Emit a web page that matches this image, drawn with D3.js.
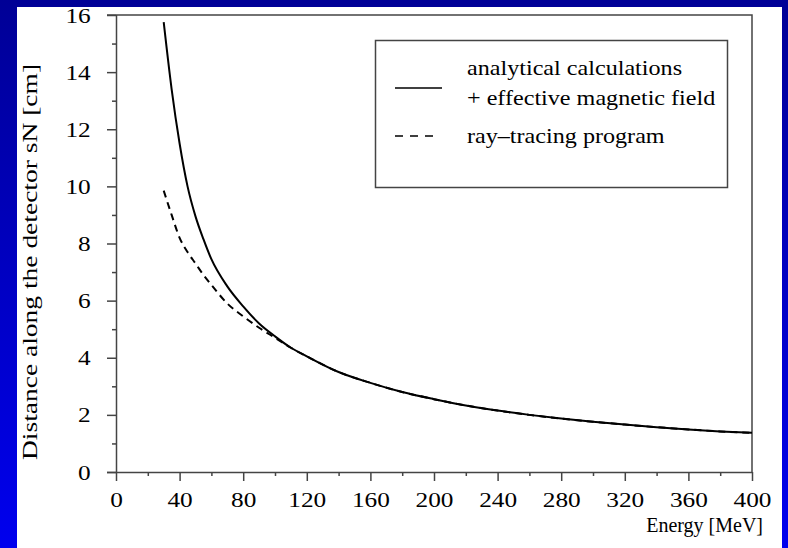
<!DOCTYPE html>
<html>
<head>
<meta charset="utf-8">
<script src="https://cdn.jsdelivr.net/npm/d3@7"></script>
<style>
  html, body { margin: 0; padding: 0; background: #0000c0; }
  svg { display: block; }
  text { font-family: "Liberation Serif", "Times New Roman", serif; fill: #000; }
</style>
</head>
<body>
<svg id="chart" width="788" height="548"></svg>
<script>
// ---- Data ----
const energyAnalytical = [30, 35, 40, 45, 50, 55, 60, 70, 80, 90, 100, 110, 120, 140, 160, 180, 200, 220, 240, 260, 280, 300, 320, 340, 360, 380, 400];
const distAnalytical   = [15.75, 13.4, 11.5, 10.0, 8.95, 8.15, 7.45, 6.5, 5.8, 5.2, 4.75, 4.35, 4.05, 3.5, 3.12, 2.8, 2.55, 2.33, 2.15, 2.0, 1.87, 1.76, 1.66, 1.57, 1.49, 1.42, 1.37];
const energyRayTrace   = [30, 35, 40, 45, 50, 55, 60, 70, 80, 90, 100, 110, 120, 140, 160, 180, 200, 220, 240, 260, 280, 300, 320, 340, 360, 380, 400];
const distRayTrace     = [9.85, 9.0, 8.2, 7.7, 7.3, 6.9, 6.55, 5.9, 5.45, 5.05, 4.7, 4.35, 4.05, 3.5, 3.12, 2.8, 2.55, 2.33, 2.15, 2.0, 1.87, 1.76, 1.66, 1.57, 1.49, 1.42, 1.37];
const xTicks = [0, 40, 80, 120, 160, 200, 240, 280, 320, 360, 400];
const yTicks = [0, 2, 4, 6, 8, 10, 12, 14, 16];
const legendLabels = [["analytical calculations", "+ effective magnetic field"], ["ray\u2013tracing program"]];
const xTitle = "Energy [MeV]";
const yTitle = "Distance along the detector sN [cm]";

// ---- Layout ----
const W = 788, H = 548;
const plot = { left: 116, right: 752, top: 15, bottom: 472 };
const SX = 1.15; // horizontal stretch of the original lettering

const svg = d3.select("#chart");
const defs = svg.append("defs");
const grad = defs.append("linearGradient").attr("id", "bg").attr("x1", 0).attr("y1", 0).attr("x2", 0).attr("y2", 1);
grad.append("stop").attr("offset", "0%").attr("stop-color", "#000096");
grad.append("stop").attr("offset", "100%").attr("stop-color", "#0000ee");
svg.append("rect").attr("width", W).attr("height", H).attr("fill", "url(#bg)");
svg.append("rect").attr("x", 17).attr("y", 7).attr("width", 765).attr("height", H - 7).attr("fill", "#fff");

const x = d3.scaleLinear().domain([0, 400]).range([plot.left, plot.right]);
const y = d3.scaleLinear().domain([0, 16]).range([plot.bottom, plot.top]);

const axisColor = "#444";

// frame (top and right)
svg.append("path")
  .attr("d", `M${plot.left},${plot.top}H${plot.right}V${plot.bottom}`)
  .attr("fill", "none").attr("stroke", axisColor).attr("stroke-width", 1.5);

// minor ticks
const xMinor = d3.range(20, 400, 40);
const yMinor = d3.range(1, 16, 2);
svg.append("g").attr("transform", `translate(0,${plot.bottom})`)
  .call(d3.axisBottom(x).tickValues(xMinor).tickSize(4).tickFormat(""))
  .call(g => g.select(".domain").remove())
  .call(g => g.selectAll("line").attr("stroke", axisColor).attr("stroke-width", 1.5));
svg.append("g").attr("transform", `translate(${plot.left},0)`)
  .call(d3.axisLeft(y).tickValues(yMinor).tickSize(4).tickFormat(""))
  .call(g => g.select(".domain").remove())
  .call(g => g.selectAll("line").attr("stroke", axisColor).attr("stroke-width", 1.5));

// major axes
const gx = svg.append("g").attr("transform", `translate(0,${plot.bottom})`)
  .call(d3.axisBottom(x).tickValues(xTicks).tickSize(9).tickSizeOuter(0).tickPadding(10).tickFormat(d3.format("d")));
gx.select(".domain").attr("d", `M${plot.left - 9},0.5H${plot.right}`);
gx.selectAll("line").attr("stroke", axisColor).attr("stroke-width", 1.5);
gx.select(".domain").attr("stroke", axisColor).attr("stroke-width", 1.5);
gx.selectAll("text").attr("font-size", 22).attr("font-family", "Liberation Serif")
  .attr("transform", `scale(${SX},1)`).attr("fill", "#000");

const gy = svg.append("g").attr("transform", `translate(${plot.left},0)`)
  .call(d3.axisLeft(y).tickValues(yTicks).tickSize(9).tickSizeOuter(0).tickPadding(13).tickFormat(d3.format("d")));
gy.select(".domain").attr("d", `M0.5,${plot.bottom}V${plot.top}`);
gy.selectAll("line").attr("stroke", axisColor).attr("stroke-width", 1.5);
gy.select(".domain").attr("stroke", axisColor).attr("stroke-width", 1.5);
gy.selectAll("text").attr("font-size", 22).attr("font-family", "Liberation Serif")
  .attr("transform", `scale(${SX},1)`).attr("fill", "#000");
// top frame line extends over the 16 tick
svg.append("line").attr("x1", plot.left - 9).attr("x2", plot.left).attr("y1", plot.top).attr("y2", plot.top)
  .attr("stroke", axisColor).attr("stroke-width", 1.5);

// curves
const line = d3.line().x(d => x(d[0])).y(d => y(d[1])).curve(d3.curveMonotoneX);
const dataA = energyAnalytical.map((e, i) => [e, distAnalytical[i]]);
const dataR = energyRayTrace.map((e, i) => [e, distRayTrace[i]]);
svg.append("path").datum(dataA).attr("d", line)
  .attr("fill", "none").attr("stroke", "#000").attr("stroke-width", 2);
svg.append("path").datum(dataR).attr("d", line)
  .attr("fill", "none").attr("stroke", "#000").attr("stroke-width", 2).attr("stroke-dasharray", "7,5");

// legend
const lg = svg.append("g");
lg.append("rect").attr("x", 375.5).attr("y", 40.5).attr("width", 352).attr("height", 147)
  .attr("fill", "#fff").attr("stroke", axisColor).attr("stroke-width", 1.5);
lg.append("line").attr("x1", 395).attr("x2", 442).attr("y1", 88).attr("y2", 88)
  .attr("stroke", "#000").attr("stroke-width", 1.6);
lg.append("line").attr("x1", 395).attr("x2", 434).attr("y1", 136).attr("y2", 136)
  .attr("stroke", "#000").attr("stroke-width", 1.6).attr("stroke-dasharray", "8,7");
const legendText = [[legendLabels[0][0], 75], [legendLabels[0][1], 105], [legendLabels[1][0], 143]];
legendText.forEach(([t, by]) => {
  lg.append("text").attr("transform", `translate(467,${by}) scale(${SX},1)`)
    .attr("font-size", 21).text(t);
});

// axis titles
svg.append("text").attr("x", 763).attr("y", 532)
  .attr("text-anchor", "end").attr("font-size", 20).text(xTitle);
svg.append("text").attr("transform", `translate(37,262) rotate(-90) scale(1.25,1)`)
  .attr("text-anchor", "middle").attr("font-size", 22).text(yTitle);
</script>
</body>
</html>
